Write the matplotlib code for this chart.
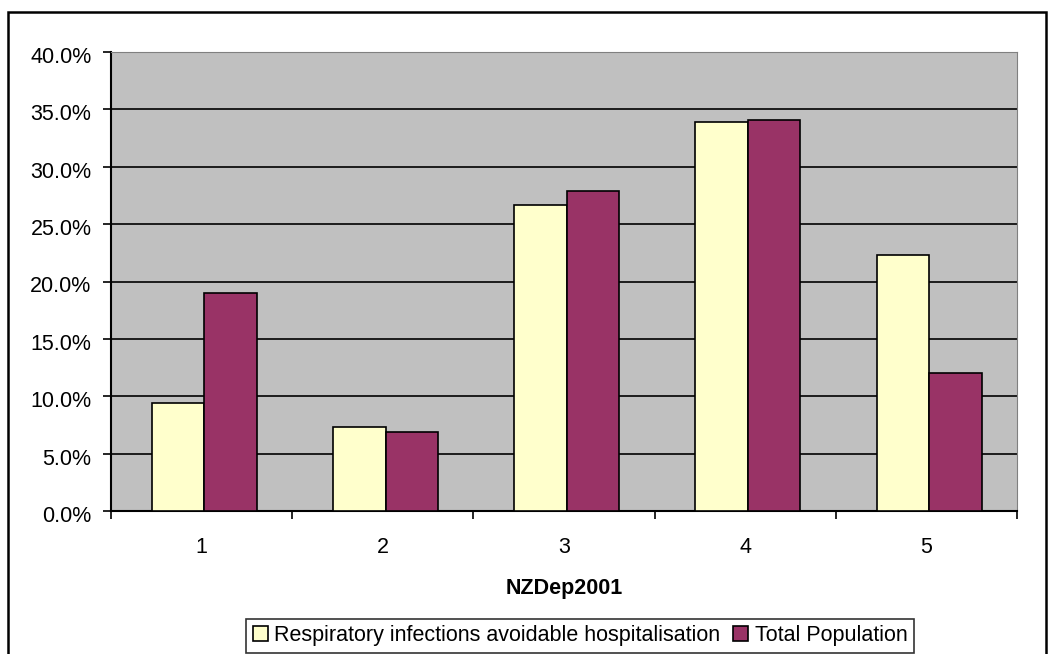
import numpy as np
import matplotlib
matplotlib.use('Agg')
import matplotlib.pyplot as plt
import matplotlib.ticker as mtick
import matplotlib.transforms as mtransforms
from matplotlib.patches import Rectangle

categories = ['1', '2', '3', '4', '5']
respiratory = [9.4, 7.3, 26.7, 33.9, 22.3]
total_pop = [19.0, 6.9, 27.9, 34.1, 12.0]
series_names = ['Respiratory infections avoidable hospitalisation', 'Total Population']

plt.rcParams['font.family'] = ['Liberation Sans', 'DejaVu Sans']
fs = 15.5

fig = plt.figure(figsize=(10.55, 6.54), dpi=100)
ax = fig.add_axes([111 / 1055, 1 - 511 / 654, (1017 - 111) / 1055, (511 - 52) / 654])

x = np.arange(len(categories)) + 0.015
w = 0.29
ax.bar(x - w / 2, respiratory, w, color='#FFFFCC', edgecolor='black', lw=1.2,
 label=series_names[0], zorder=3)
ax.bar(x + w / 2, total_pop, w, color='#993366', edgecolor='black', lw=1.2,
 label=series_names[1], zorder=3)

ax.set_facecolor('#C0C0C0')
ax.set_xlim(-0.5, len(categories) - 0.5)
ax.set_ylim(0, 40)
ax.yaxis.set_major_locator(mtick.MultipleLocator(5))
ax.yaxis.set_major_formatter(mtick.FuncFormatter(lambda v, p: f'{v:.1f}%'))
ax.grid(axis='y', color='black', lw=1.2, zorder=1)

ax.set_xticks(np.arange(len(categories)))
ax.set_xticklabels(categories)
ax.set_xticks(np.arange(-0.5, len(categories)), minor=True)
ax.tick_params(axis='x', which='major', length=0, pad=19, labelsize=fs)
ax.tick_params(axis='x', which='minor', length=6, width=1.2, direction='out')
ax.tick_params(axis='y', length=6, width=1.2, direction='out', labelsize=fs, pad=8)

# y labels sit slightly below their ticks in the original
shift = mtransforms.ScaledTranslation(0, -3 / 100, fig.dpi_scale_trans)
for lbl in ax.get_yticklabels():
 lbl.set_transform(lbl.get_transform() + shift)

for side in ['left', 'bottom']:
 ax.spines[side].set_linewidth(1.5)
for side in ['top', 'right']:
 ax.spines[side].set_color('#808080')

ax.set_xlabel('NZDep2001', fontsize=fs, fontweight='bold', labelpad=14)

leg = fig.legend(loc='upper center', bbox_to_anchor=(580 / 1055, 1 - 619 / 654),
 ncol=2, fontsize=fs, frameon=True, fancybox=False, edgecolor='black',
 handlelength=0.7, handleheight=0.7, handletextpad=0.3, columnspacing=0.6,
 borderpad=0.3, borderaxespad=0)
leg.get_frame().set_linewidth(1.2)

# outer chart frame
fig.patches.append(Rectangle((8 / 1055, -0.1), (1046 - 8) / 1055, 1.1 - 12 / 654,
 transform=fig.transFigure, fill=False, edgecolor='black', lw=1.8))

fig.savefig('out.png', dpi=100, facecolor='white')
